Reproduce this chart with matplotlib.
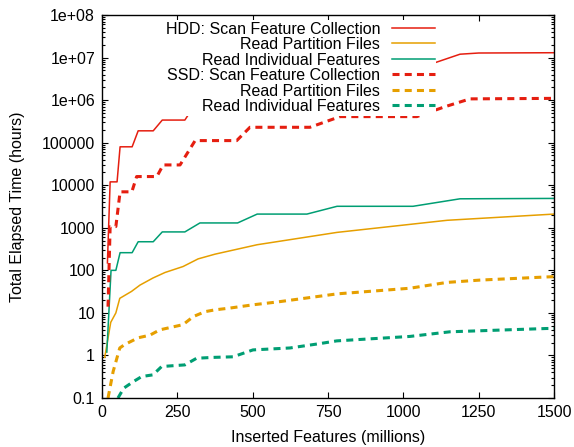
import numpy as np
import matplotlib.pyplot as plt

plt.rcParams['font.family'] = ['Liberation Sans', 'DejaVu Sans']
plt.rcParams['font.size'] = 11.5

# HDD series (solid lines)
hdd_scan_x = [18, 27, 50, 60, 100, 120, 170, 200, 275, 325, 450, 515, 680, 780, 1030, 1188, 1250, 1500]
hdd_scan_y = [150, 12000, 12000, 80000, 80000, 190000, 190000, 340000, 340000, 1.2e6, 1.2e6,
              2.5e6, 2.5e6, 5e6, 5e6, 1.2e7, 1.28e7, 1.3e7]

hdd_part_x = [9, 29, 46, 59, 98, 126, 169, 209, 269, 319, 375, 515, 780, 1145, 1500]
hdd_part_y = [0.9, 6, 10, 22, 32, 45, 66, 89, 123, 186, 240, 400, 780, 1500, 2100]

hdd_indiv_x = [16, 30, 46, 60, 100, 120, 170, 200, 275, 325, 450, 515, 680, 780, 1032, 1188, 1500]
hdd_indiv_y = [1.2, 100, 100, 260, 260, 470, 470, 800, 800, 1300, 1300, 2100, 2100, 3200, 3200, 4800, 4900]

# SSD series (dashed lines)
ssd_scan_x = [20, 27, 46, 60, 99, 115, 182, 203, 259, 309, 447, 491, 690, 790, 1045, 1138, 1221, 1500]
ssd_scan_y = [14, 1070, 1070, 7000, 7000, 16000, 16000, 30000, 30000, 112000, 112000,
              230000, 230000, 410000, 410000, 700000, 1.07e6, 1.1e6]

ssd_part_x = [20, 37, 59, 75, 120, 159, 192, 242, 269, 303, 342, 375, 425, 501, 580, 780,
              1022, 1144, 1254, 1476, 1500]
ssd_part_y = [0.1, 0.42, 1.5, 1.8, 2.6, 3.0, 4.0, 4.8, 5.3, 8.2, 10.7, 11.8, 13, 15.5, 18, 28,
              38, 52, 59, 70, 71]

ssd_indiv_x = [53, 72, 103, 132, 169, 198, 275, 314, 368, 435, 501, 624, 723, 779, 1022, 1155, 1476, 1500]
ssd_indiv_y = [0.1, 0.17, 0.24, 0.32, 0.35, 0.55, 0.6, 0.86, 0.9, 0.93, 1.35, 1.5, 1.9, 2.2,
               2.8, 3.6, 4.3, 4.3]

y_ticks = [0.1, 1, 10, 100, 1000, 10000, 100000, 1e6, 1e7, 1e8]
y_tick_labels = ['0.1', '1', '10', '100', '1000', '10000', '100000', '1e+06', '1e+07', '1e+08']
x_ticks = [0, 250, 500, 750, 1000, 1250, 1500]

merah = '#e51e10'
oranye = '#e69f00'
hijau = '#009e73'

fig = plt.figure(figsize=(5.74, 4.47), dpi=100)
ax = fig.add_axes([0.1777, 0.1096, 0.7875, 0.8568])

ax.plot(hdd_scan_x, hdd_scan_y, color=merah, lw=1.1, label='HDD: Scan Feature Collection')
ax.plot(hdd_part_x, hdd_part_y, color=oranye, lw=1.1, label='Read Partition Files')
ax.plot(hdd_indiv_x, hdd_indiv_y, color=hijau, lw=1.1, label='Read Individual Features')
ax.plot(ssd_scan_x, ssd_scan_y, color=merah, lw=2.2, dashes=(2.3, 1.7),
        label='SSD: Scan Feature Collection')
ax.plot(ssd_part_x, ssd_part_y, color=oranye, lw=2.2, dashes=(2.3, 1.7), label='Read Partition Files')
ax.plot(ssd_indiv_x, ssd_indiv_y, color=hijau, lw=2.2, dashes=(2.3, 1.7),
        label='Read Individual Features')

ax.set_yscale('log')
ax.set_xlim(0, 1500)
ax.set_ylim(0.1, 1e8)
ax.set_yticks(y_ticks)
ax.set_yticklabels(y_tick_labels)
ax.set_xticks(x_ticks)
ax.tick_params(which='both', direction='in', top=True, right=True, width=0.8)
ax.tick_params(which='major', length=4.5, pad=5)
ax.tick_params(which='minor', length=2.3)
for s in ax.spines.values():
    s.set_linewidth(1.0)

ax.set_xlabel('Inserted Features (millions)', labelpad=7)
ax.set_ylabel('Total Elapsed Time (hours)', labelpad=12)

# kotak legenda putih tanpa garis tepi, teks di kiri simbol
leg = ax.legend(loc='upper right', bbox_to_anchor=(0.7395, 0.987), markerfirst=False,
                frameon=True, fancybox=False, framealpha=1.0, facecolor='white',
                edgecolor='none', borderpad=0.1, borderaxespad=0, labelspacing=0.03,
                handlelength=2.7, handletextpad=0.7)
leg.set_zorder(5)

plt.savefig('out.png', dpi=100)
